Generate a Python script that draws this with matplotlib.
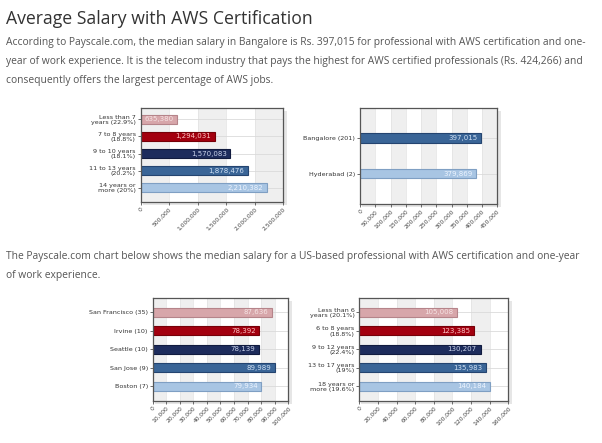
import numpy as np
import matplotlib
matplotlib.use('Agg')
import matplotlib.pyplot as plt
from matplotlib.patches import Rectangle

W, H = 602, 443

title = 'Average Salary with AWS Certification'
para1 = ['According to Payscale.com, the median salary in Bangalore is Rs. 397,015 for professional with AWS certification and one-',
         'year of work experience. It is the telecom industry that pays the highest for AWS certified professionals (Rs. 424,266) and',
         'consequently offers the largest percentage of AWS jobs.']
para2 = ['The Payscale.com chart below shows the median salary for a US-based professional with AWS certification and one-year',
         'of work experience.']

exp_in_labels = ['Less than 7\nyears (22.9%)', '7 to 8 years\n(18.8%)', '9 to 10 years\n(18.1%)',
                 '11 to 13 years\n(20.2%)', '14 years or\nmore (20%)']
exp_in_values = [635380, 1294031, 1570083, 1878476, 2210382]

city_in_labels = ['Bangalore (201)', 'Hyderabad (2)']
city_in_values = [397015, 379869]

city_us_labels = ['San Francisco (35)', 'Irvine (10)', 'Seattle (10)', 'San Jose (9)', 'Boston (7)']
city_us_values = [87636, 78392, 78139, 89989, 79934]

exp_us_labels = ['Less than 6\nyears (20.1%)', '6 to 8 years\n(18.8%)', '9 to 12 years\n(22.4%)',
                 '13 to 17 years\n(19%)', '18 years or\nmore (19.6%)']
exp_us_values = [105008, 123385, 130207, 135983, 140184]

# fill, edge, label text
PINK = ('#d7a6aa', '#b5848a', '#f6e4e4')
RED = ('#a3000f', '#760008', '#ffc4c4')
NAVY = ('#1d2c5c', '#111b3f', '#c9d2ea')
STEEL = ('#3a6597', '#244470', '#cfe0f4')
LIGHT = ('#a8c5e3', '#7f9fc3', '#edf4ff')
five = [PINK, RED, NAVY, STEEL, LIGHT]

fig = plt.figure(figsize=(W / 100, H / 100), dpi=100)
fig.patch.set_facecolor('white')

def px_text(x, y, s, **kw):
    fig.text(x / W, 1 - y / H, s, **kw)

px_text(6, 24, title, fontsize=12.7, family='Open Sans', color='#333333', va='baseline')
for i, line in enumerate(para1):
    px_text(6, 45 + 19 * i, line, fontsize=7.38, family='Open Sans', color='#555555', va='baseline')
for i, line in enumerate(para2):
    px_text(6, 259 + 19 * i, line, fontsize=7.38, family='Open Sans', color='#555555', va='baseline')


def bar_chart(rect, labels, values, colors, xmax, step, ylim, height):
    x0, y0, x1, y1 = rect
    # soft shadow behind frame
    shadow = Rectangle(((x0 + 2) / W, 1 - (y1 + 3) / H), (x1 - x0 + 2) / W, (y1 - y0) / H,
                       transform=fig.transFigure, facecolor='#e6e6e6', edgecolor='none', zorder=-5)
    fig.add_artist(shadow)
    ax = fig.add_axes([x0 / W, 1 - y1 / H, (x1 - x0) / W, (y1 - y0) / H], zorder=2)
    ax.set_facecolor('white')
    ticks = np.arange(0, xmax + step, step)
    for k in range(0, len(ticks) - 1, 2):
        ax.axvspan(ticks[k], ticks[k + 1], color='#efefef', lw=0, zorder=0)
    for t in ticks:
        ax.axvline(t, color='#e2e2e2', lw=0.5, zorder=0.5)
    y = np.arange(len(values))
    for yy in y:
        ax.axhline(yy, color='#dadada', lw=0.6, zorder=0.6)
    ax.barh(y, values, height=height, color=[c[0] for c in colors],
            edgecolor=[c[1] for c in colors], linewidth=0.8, zorder=2)
    for yy, v, c in zip(y, values, colors):
        ax.text(v - xmax * 0.025, yy, f'{v:,}', ha='right', va='center', fontsize=5,
                color=c[2], zorder=3)
    ax.set_xlim(0, xmax)
    ax.set_ylim(*ylim)
    ax.set_xticks(ticks)
    ax.set_xticklabels([f'{int(t):,}' for t in ticks], rotation=45, ha='right',
                       rotation_mode='anchor', fontsize=4.3, color='#444444')
    ax.set_yticks(y)
    ax.set_yticklabels(labels, fontsize=4.6, color='#333333', linespacing=1.05)
    ax.tick_params(axis='both', length=2, width=0.6, color='#555555', pad=1.5)
    for s in ax.spines.values():
        s.set_color('#555555')
        s.set_linewidth(0.9)
    return ax

bar_chart((140.7, 107.7, 283.3, 201.7), exp_in_labels, exp_in_values, five,
          2500000, 500000, (4.82, -0.68), 0.55)
bar_chart((360, 107.7, 497.3, 204), city_in_labels, city_in_values, [STEEL, LIGHT],
          450000, 50000, (1.85, -0.85), 0.26)
bar_chart((152.7, 298.3, 288.3, 400.7), city_us_labels, city_us_values, five,
          100000, 10000, (4.78, -0.76), 0.5)
bar_chart((359.3, 298.3, 508.3, 400.7), exp_us_labels, exp_us_values, five,
          160000, 20000, (4.78, -0.76), 0.5)

fig.savefig('out.png', dpi=100, facecolor='white')
